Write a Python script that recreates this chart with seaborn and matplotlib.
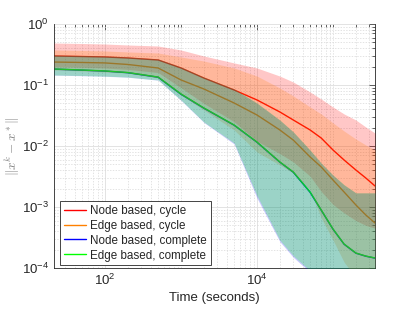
import numpy as np
import pandas as pd
import matplotlib
matplotlib.use("Agg")
import matplotlib.pyplot as plt
import seaborn as sns
from matplotlib.ticker import LogLocator, NullFormatter, FixedLocator

sns.set_theme(style="white")
plt.rcParams['font.family'] = ['Liberation Sans', 'DejaVu Sans']
plt.rcParams['mathtext.fontset'] = 'cm'

# ---- data ----
time_s = [21.3, 50, 100, 200, 500, 1000, 2000, 5000, 1e4, 2e4, 3e4, 5e4, 7e4, 1e5, 1.4e5, 2e5, 2.7e5, 3.57e5]

labels = ["Node based, cycle", "Edge based, cycle", "Node based, complete", "Edge based, complete"]
colors = ["#ff0000", "#ff8000", "#0000ff", "#00ff00"]

node_cycle_mean = [0.299, 0.293, 0.288, 0.277, 0.257, 0.190, 0.130, 0.0828, 0.0568, 0.0361, 0.0267, 0.0183, 0.0135, 0.0086, 0.00589, 0.00404, 0.00299, 0.00221]
node_cycle_high = [0.488, 0.479, 0.470, 0.453, 0.436, 0.375, 0.299, 0.230, 0.190, 0.140, 0.112, 0.0768, 0.0589, 0.0436, 0.0335, 0.0267, 0.0205, 0.0163]
node_cycle_low = [0.200, 0.195, 0.190, 0.180, 0.160, 0.090, 0.050, 0.025, 0.012, 0.0075, 0.0055, 0.0032, 0.0018, 0.0011, 0.0008, 0.0006, 0.0005, 0.00045]

edge_cycle_mean = [0.238, 0.234, 0.230, 0.217, 0.190, 0.121, 0.0860, 0.0507, 0.0322, 0.0183, 0.0125, 0.00661, 0.00453, 0.00277, 0.00176, 0.00108, 0.00074, 0.000547]
edge_cycle_high = [0.375, 0.368, 0.361, 0.348, 0.335, 0.288, 0.247, 0.190, 0.140, 0.0893, 0.0662, 0.0436, 0.0335, 0.0239, 0.0176, 0.0130, 0.0104, 0.0086]
edge_cycle_low = [0.176, 0.170, 0.163, 0.157, 0.130, 0.0686, 0.0389, 0.0183, 0.00797, 0.00488, 0.00361, 0.00190, 0.000661, 0.000288, 0.000125, 0.00007, 0.00006, 0.00005]

node_complete_mean = [0.182, 0.175, 0.169, 0.159, 0.134, 0.0705, 0.0416, 0.0219, 0.0115, 0.00542, 0.00372, 0.00174, 0.000885, 0.000432, 0.000245, 0.000175, 0.000156, 0.000145]
node_complete_high = [0.309, 0.304, 0.298, 0.287, 0.266, 0.196, 0.134, 0.0855, 0.0503, 0.0265, 0.0170, 0.0085, 0.00522, 0.00332, 0.00230, 0.00170, 0.00170, 0.00170]
node_complete_low = [0.145, 0.142, 0.139, 0.134, 0.120, 0.0560, 0.0243, 0.0108, 0.00140, 0.000270, 0.000150, 0.000085, 0.00007, 0.00006, 0.00005, 0.00005, 0.00005, 0.00005]

edge_complete_mean = [0.183, 0.176, 0.170, 0.160, 0.135, 0.0712, 0.0420, 0.0221, 0.0116, 0.00547, 0.00375, 0.00176, 0.000893, 0.000436, 0.000247, 0.000176, 0.000157, 0.000146]
edge_complete_high = [0.310, 0.305, 0.299, 0.288, 0.267, 0.197, 0.135, 0.0860, 0.0507, 0.0267, 0.0171, 0.0086, 0.00527, 0.00335, 0.00232, 0.00171, 0.00171, 0.00171]
edge_complete_low = [0.146, 0.143, 0.140, 0.135, 0.121, 0.0568, 0.0247, 0.0112, 0.00153, 0.000286, 0.000159, 0.00009, 0.00007, 0.00006, 0.00005, 0.00005, 0.00005, 0.00005]

means = [node_cycle_mean, edge_cycle_mean, node_complete_mean, edge_complete_mean]
highs = [node_cycle_high, edge_cycle_high, node_complete_high, edge_complete_high]
lows = [node_cycle_low, edge_cycle_low, node_complete_low, edge_complete_low]

df = pd.DataFrame({
    "time": np.tile(time_s, len(labels)),
    "err": np.concatenate(means),
    "series": np.repeat(labels, len(time_s)),
})

# ---- figure ----
fig = plt.figure(figsize=(4.15, 3.12), dpi=100)
ax = fig.add_axes([54 / 415, 44 / 312, 321 / 415, 244 / 312])

sns.lineplot(data=df, x="time", y="err", hue="series", hue_order=labels,
             palette=colors, linewidth=1.0, ax=ax, legend=False, zorder=2,
             estimator=None, sort=False)

for lo, hi, c in zip(lows, highs, colors):
    ax.fill_between(time_s, lo, hi, color=c, alpha=0.22, linewidth=0, zorder=3)

ax.set_xscale("log")
ax.set_yscale("log")
ax.set_xlim(21.3, 3.57e5)
ax.set_ylim(1e-4, 1)

ax.xaxis.set_major_locator(FixedLocator([1e2, 1e4]))
ax.xaxis.set_minor_locator(LogLocator(base=10, subs=np.arange(1, 10), numticks=20))
ax.xaxis.set_minor_formatter(NullFormatter())
ax.yaxis.set_major_locator(FixedLocator([1e-4, 1e-3, 1e-2, 1e-1, 1]))
ax.yaxis.set_minor_locator(LogLocator(base=10, subs=np.arange(2, 10), numticks=20))
ax.yaxis.set_minor_formatter(NullFormatter())

ax.grid(True, which="major", color="#dedede", linewidth=0.6, linestyle="-", zorder=0)
ax.grid(True, which="minor", color="#d8d8d8", linewidth=0.5, linestyle=(0, (2, 2)), zorder=0)
ax.set_axisbelow(True)

ax.tick_params(which="both", direction="in", top=True, right=True, colors="#262626",
               labelsize=9.5, width=0.5)
ax.tick_params(which="major", length=4)
ax.tick_params(which="minor", length=2)
for s in ["left", "bottom", "right"]:
    ax.spines[s].set_color("#262626")
    ax.spines[s].set_linewidth(0.6)
ax.spines["top"].set_visible(False)

ax.set_xlabel("Time (seconds)", fontsize=9.5, color="#262626", labelpad=3)
ax.set_ylabel(r"$\|x^k - x^*\|$", fontsize=9.5, color="#808080")
ax.yaxis.set_label_coords(-0.100, 0.5)

handles = [plt.Line2D([], [], color=c, linewidth=1.0) for c in colors]
leg = ax.legend(handles, labels, loc="lower left", bbox_to_anchor=(6 / 321, 3 / 244),
                borderaxespad=0, fontsize=8.4, frameon=True, fancybox=False,
                framealpha=1, edgecolor="#262626", handlelength=1.9,
                handletextpad=0.4, labelspacing=0.25, borderpad=0.3)
leg.get_frame().set_linewidth(0.6)
leg.set_zorder(10)

fig.savefig("out.png", dpi=100)
